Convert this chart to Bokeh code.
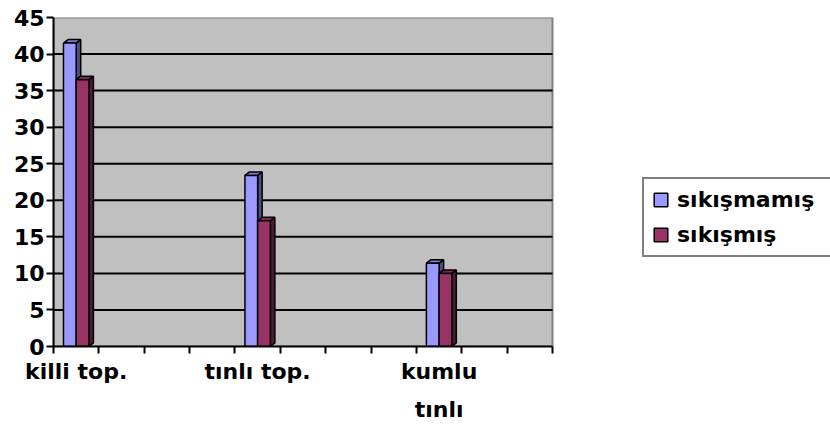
from bokeh.plotting import figure
from bokeh.models import (FixedTicker, LinearAxis, Legend, LegendItem,
                          Range1d, ColumnDataSource)
from bokeh.embed import file_html
from bokeh.resources import INLINE

# ---- data -------------------------------------------------------------
categories = ["killi top.", "tınlı top.", "kumlu tınlı"]
tick_lines_1 = ["killi top.", "tınlı top.", "kumlu"]
tick_lines_2 = ["", "", "tınlı"]
series_names = ["sıkışmamış", "sıkışmış"]
sikismamis = [41.5, 23.4, 11.4]
sikismis = [36.5, 17.2, 10.0]
y_ticks = [0, 5, 10, 15, 20, 25, 30, 35, 40, 45]

# ---- layout -----------------------------------------------------------
SLOTS = 11                 # category slots along the x axis
category_slot = [0, 4, 8]  # slot used by each category
BAR_W = 0.28               # width of one column front face
DEPTH_X = 0.10             # 3-D depth of the columns (x units)
DEPTH_Y = 0.48             # 3-D depth of the columns (y units)
FONT = "DejaVu Sans"
LEFT, WALL_RIGHT, WIDTH = 53, 552, 830   # pixel layout of the chart wall
X_MAX = SLOTS * (WIDTH - LEFT) / (WALL_RIGHT - LEFT)

centers = [s + 0.5 for s in category_slot]

p = figure(width=WIDTH, height=428, x_range=Range1d(0, X_MAX), y_range=Range1d(0, 45),
           output_backend="svg", toolbar_location=None,
           x_axis_type=None, y_axis_type=None,
           min_border_left=LEFT, min_border_right=0, min_border_top=17,
           min_border_bottom=82)
p.background_fill_color = "white"
p.outline_line_color = None
p.border_fill_color = "white"

# grey chart wall with its gridlines
p.quad(left=0, right=SLOTS, bottom=0, top=45, fill_color="#C0C0C0",
       line_color="#808080", line_width=2)
grid_y = y_ticks[1:-1]
p.segment(x0=[0] * len(grid_y), x1=[SLOTS] * len(grid_y), y0=grid_y, y1=grid_y,
          line_color="black", line_width=2)

# value axis
yaxis = LinearAxis(ticker=FixedTicker(ticks=y_ticks))
yaxis.axis_line_width = 2
yaxis.axis_line_color = "black"
yaxis.major_tick_out = 7
yaxis.major_tick_in = 0
yaxis.major_tick_line_width = 2
yaxis.minor_tick_line_color = None
yaxis.major_label_standoff = 2
yaxis.major_label_text_font = FONT
yaxis.major_label_text_font_style = "bold"
yaxis.major_label_text_font_size = "22px"
yaxis.major_label_text_color = "black"
p.add_layout(yaxis, "left")

# category axis: tick marks at slot boundaries, labels at category centres
xaxis = LinearAxis(ticker=FixedTicker(ticks=centers, minor_ticks=list(range(SLOTS + 1))),
                   bounds=(0, SLOTS))
xaxis.major_label_overrides = {c: t for c, t in zip(centers, tick_lines_1)}
xaxis.axis_line_width = 2
xaxis.axis_line_color = "black"
xaxis.major_tick_line_color = None
xaxis.major_tick_out = 0
xaxis.major_tick_in = 0
xaxis.minor_tick_out = 7
xaxis.minor_tick_in = 0
xaxis.minor_tick_line_width = 2
xaxis.minor_tick_line_color = "black"
xaxis.major_label_standoff = 5
xaxis.major_label_text_font = FONT
xaxis.major_label_text_font_style = "bold"
xaxis.major_label_text_font_size = "22px"
xaxis.major_label_text_color = "black"
p.add_layout(xaxis, "below")

xaxis2 = LinearAxis(ticker=FixedTicker(ticks=centers, minor_ticks=[]))
xaxis2.major_label_overrides = {c: t for c, t in zip(centers, tick_lines_2)}
xaxis2.axis_line_color = None
xaxis2.major_tick_line_color = None
xaxis2.minor_tick_line_color = None
xaxis2.major_tick_out = 0
xaxis2.major_tick_in = 0
xaxis2.major_label_standoff = 10
xaxis2.major_label_text_font = FONT
xaxis2.major_label_text_font_style = "bold"
xaxis2.major_label_text_font_size = "22px"
xaxis2.major_label_text_color = "black"
p.add_layout(xaxis2, "below")


def draw_columns(values, offset, front, top, side):
    xs = [c + offset for c in centers]
    left = [x - BAR_W / 2 for x in xs]
    right = [x + BAR_W / 2 for x in xs]
    side_xs = [[r, r + DEPTH_X, r + DEPTH_X, r] for r in right]
    side_ys = [[0, DEPTH_Y, v + DEPTH_Y, v] for v in values]
    top_xs = [[l, l + DEPTH_X, r + DEPTH_X, r] for l, r in zip(left, right)]
    top_ys = [[v, v + DEPTH_Y, v + DEPTH_Y, v] for v in values]
    p.patches(side_xs, side_ys, fill_color=side, line_color="black", line_width=1.5)
    p.patches(top_xs, top_ys, fill_color=top, line_color="black", line_width=1.5)
    src = ColumnDataSource(dict(x=xs, top=values))
    return p.vbar(x="x", top="top", bottom=0, width=BAR_W, source=src,
                  fill_color=front, line_color="black", line_width=1.5)


r1 = draw_columns(sikismamis, -BAR_W / 2, "#9999FF", "#7C7CD0", "#4D4D80")
r2 = draw_columns(sikismis, BAR_W / 2, "#993366", "#7A2952", "#4D1A33")

legend = Legend(items=[LegendItem(label=series_names[0], renderers=[r1]),
                       LegendItem(label=series_names[1], renderers=[r2])],
                location=(589, 89), orientation="vertical")
legend.margin = 0
legend.padding = 8
legend.spacing = 10
legend.glyph_width = 17
legend.glyph_height = 17
legend.label_standoff = 8
legend.label_width = 170
legend.label_text_font = FONT
legend.label_text_font_style = "bold"
legend.label_text_font_size = "22px"
legend.label_text_color = "black"
legend.border_line_color = "black"
legend.border_line_width = 2
legend.background_fill_color = "white"
legend.background_fill_alpha = 1
p.add_layout(legend)

open("out.html", "w").write(file_html(p, INLINE))
